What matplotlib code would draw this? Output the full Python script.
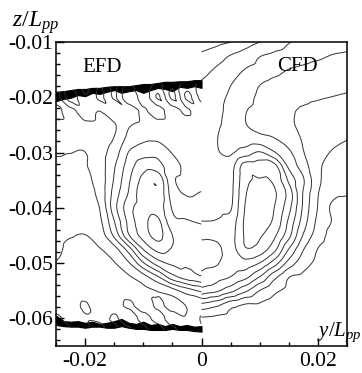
import numpy as np
import matplotlib
matplotlib.use("Agg")
import matplotlib.pyplot as plt
import matplotlib.tri as mtri
from matplotlib.patches import Polygon
from matplotlib.ticker import MultipleLocator

plt.rcParams['font.family'] = ['Liberation Serif', 'DejaVu Serif']
plt.rcParams['mathtext.fontset'] = 'custom'
plt.rcParams['mathtext.it'] = 'Liberation Serif:italic'
plt.rcParams['mathtext.rm'] = 'Liberation Serif'
plt.rcParams['axes.unicode_minus'] = False

# --- measurement / computation grid (y/Lpp across, z/Lpp down) ---
z_nodes = [-0.0100, -0.0125, -0.0150, -0.0175, -0.0200, -0.0225, -0.0250, -0.0275,
           -0.0300, -0.0325, -0.0350, -0.0375, -0.0400, -0.0425, -0.0450, -0.0475,
           -0.0500, -0.0525, -0.0550, -0.0575, -0.0600, -0.0625, -0.0650]
y_cfd = [0.0, 0.0025, 0.005, 0.0075, 0.01, 0.0125, 0.015, 0.0175, 0.02, 0.0225, 0.025]
y_efd = [-0.025, -0.0225, -0.02, -0.0175, -0.015, -0.0125, -0.01, -0.0075, -0.005, -0.0025, 0.0]

# wake level (one row per z node)
cfd_level = [
    [8.6, 8.3, 8.0, 7.5, 7.0, 6.55, 6.05, 5.85, 5.65, 5.45, 5.3],
    [7.8, 7.45, 6.95, 6.55, 6.05, 5.8, 5.6, 5.4, 5.2, 4.95, 4.85],
    [7.35, 6.9, 6.45, 5.97, 5.7, 5.35, 4.98, 4.8, 4.6, 4.4, 4.3],
    [6.9, 6.5, 6.05, 5.55, 5.05, 4.75, 4.5, 4.35, 4.3, 4.2, 4.1],
    [6.6, 6.25, 5.85, 5.3, 4.85, 4.6, 4.4, 4.25, 4.1, 3.98, 3.9],
    [6.5, 6.2, 5.75, 5.05, 4.8, 4.5, 4.15, 3.85, 3.6, 3.4, 3.3],
    [6.5, 6.15, 5.7, 5.05, 4.7, 4.45, 4.15, 3.8, 3.5, 3.3, 3.2],
    [6.5, 6.05, 5.6, 5.45, 5.35, 5.05, 4.5, 3.9, 3.4, 3.15, 3.02],
    [6.5, 6.1, 5.85, 6.5, 7.1, 6.1, 5.2, 4.05, 3.3, 2.95, 2.8],
    [6.5, 6.4, 6.6, 8.5, 8.6, 8.4, 5.8, 4.5, 3.2, 2.7, 2.55],
    [6.55, 6.6, 6.7, 8.7, 9.05, 8.8, 6.8, 5.1, 3.25, 2.45, 2.3],
    [6.6, 6.7, 6.75, 8.9, 9.4, 9.15, 7.6, 4.9, 3.05, 2.2, 2.05],
    [6.7, 6.85, 6.9, 9.05, 9.5, 9.0, 7.3, 4.8, 2.95, 1.85, 1.6],
    [7.02, 7.05, 7.4, 9.15, 9.4, 8.8, 6.8, 4.5, 2.75, 1.95, 1.6],
    [7.8, 7.7, 7.6, 9.1, 9.1, 8.2, 6.3, 3.9, 2.5, 1.7, 1.5],
    [8.3, 8.3, 7.6, 8.9, 8.6, 7.3, 4.95, 3.05, 1.97, 1.6, 1.45],
    [8.2, 8.1, 7.4, 7.6, 6.97, 5.5, 3.6, 2.4, 1.8, 1.55, 1.45],
    [7.75, 7.4, 6.98, 6.3, 4.97, 3.3, 2.05, 1.8, 1.6, 1.5, 1.4],
    [6.6, 6.2, 5.3, 4.2, 2.97, 2.2, 1.8, 1.6, 1.5, 1.45, 1.4],
    [3.8, 3.3, 2.4, 1.95, 1.9, 1.7, 1.6, 1.5, 1.45, 1.4, 1.4],
    [1.9, 1.8, 1.7, 1.6, 1.55, 1.5, 1.5, 1.45, 1.4, 1.4, 1.4],
    [1.7, 1.65, 1.6, 1.55, 1.5, 1.5, 1.45, 1.45, 1.4, 1.4, 1.4],
    [1.6, 1.6, 1.55, 1.5, 1.5, 1.45, 1.45, 1.4, 1.4, 1.4, 1.4],
]

# EFD only covers z_nodes[3:22]; the first and last rows are noisy near the window edges
efd_z_nodes = z_nodes[3:22]
efd_level = [
    [3.6, 4.8, 3.5, 5.05, 3.7, 5.2, 4.0, 5.3, 4.2, 5.5, 4.5],
    [3.5, 5.5, 4.1, 5.2, 3.9, 5.9, 4.4, 6.1, 3.8, 6.2, 4.6],
    [4.4, 3.6, 4.6, 4.0, 4.7, 4.1, 5.2, 4.4, 5.6, 4.8, 5.7],
    [3.6, 3.7, 3.75, 3.8, 3.9, 4.9, 5.3, 5.5, 5.6, 5.7, 5.75],
    [3.3, 3.35, 3.4, 3.6, 4.05, 5.3, 5.8, 5.85, 5.6, 5.6, 5.6],
    [3.05, 3.01, 2.99, 3.6, 4.5, 6.05, 6.6, 6.7, 5.95, 5.7, 5.7],
    [2.9, 2.92, 2.95, 3.5, 4.9, 6.5, 7.6, 7.4, 6.4, 5.8, 5.75],
    [2.75, 2.8, 2.85, 3.4, 5.1, 6.85, 8.3, 8.8, 6.2, 5.8, 5.8],
    [2.6, 2.65, 2.75, 3.3, 5.4, 7.1, 8.6, 8.85, 6.5, 5.95, 6.05],
    [2.5, 2.55, 2.7, 3.02, 5.6, 7.6, 8.5, 8.6, 6.9, 6.4, 6.4],
    [2.4, 2.45, 2.6, 2.8, 4.95, 7.3, 8.7, 9.2, 7.3, 7.1, 6.9],
    [2.2, 2.05, 1.97, 2.5, 4.2, 6.9, 8.4, 9.3, 8.0, 7.6, 7.4],
    [2.15, 1.85, 1.8, 1.95, 2.6, 4.5, 7.03, 8.3, 7.9, 7.6, 7.5],
    [1.97, 1.75, 1.7, 1.75, 1.95, 2.9, 4.9, 6.5, 7.2, 7.1, 7.1],
    [1.7, 1.6, 1.6, 1.6, 1.65, 1.9, 2.6, 3.9, 5.6, 6.5, 6.9],
    [1.6, 1.5, 1.5, 1.55, 1.55, 1.6, 1.75, 2.05, 2.6, 3.5, 4.2],
    [1.5, 1.6, 2.1, 1.4, 1.7, 2.15, 1.5, 2.2, 1.6, 2.1, 2.4],
    [2.2, 1.6, 1.9, 1.8, 2.1, 1.5, 2.3, 1.7, 2.4, 2.1, 3.1],
    [1.4, 2.3, 1.5, 2.6, 1.6, 2.4, 1.4, 2.7, 1.6, 2.5, 2.8],
]

# edges of the PIV window: ragged black bands where the EFD data stop
edge_y = [-0.025, -0.02375, -0.0225, -0.02125, -0.02, -0.01875, -0.0175, -0.01625,
          -0.015, -0.01375, -0.0125, -0.01125, -0.01, -0.00875, -0.0075, -0.00625,
          -0.005, -0.00375, -0.0025, -0.00125, 0.0]
top_band_upper = [-0.0190, -0.0189, -0.0187, -0.0185, -0.0185, -0.0183, -0.0183, -0.0181,
                  -0.0180, -0.0180, -0.0180, -0.0178, -0.0176, -0.0176, -0.0174, -0.0172,
                  -0.0172, -0.0171, -0.0171, -0.0169, -0.0169]
top_band_lower = [-0.0207, -0.0203, -0.0201, -0.0196, -0.0198, -0.0192, -0.0194, -0.0190,
                  -0.0187, -0.0192, -0.0189, -0.0187, -0.0192, -0.0187, -0.0183, -0.0185,
                  -0.0189, -0.0181, -0.0183, -0.0180, -0.0183]
bottom_band_upper = [-0.0595, -0.0605, -0.0606, -0.0605, -0.0608, -0.0606, -0.0610, -0.0608,
                     -0.0605, -0.0601, -0.0608, -0.0610, -0.0606, -0.0612, -0.0610, -0.0614,
                     -0.0610, -0.0614, -0.0612, -0.0615, -0.0614]
bottom_band_lower = [-0.0612, -0.0614, -0.0615, -0.0615, -0.0617, -0.0615, -0.0615, -0.0617,
                     -0.0617, -0.0614, -0.0617, -0.0619, -0.0619, -0.0621, -0.0621, -0.0621,
                     -0.0619, -0.0621, -0.0621, -0.0623, -0.0624]

levels = [2, 3, 4, 5, 6, 7, 8, 9]
x_ticks = [-0.02, 0.0, 0.02]
x_tick_labels = ['-0.02', '0', '0.02']
y_ticks = [-0.06, -0.05, -0.04, -0.03, -0.02, -0.01]
y_tick_labels = ['-0.06', '-0.05', '-0.04', '-0.03', '-0.02', '-0.01']

LINE_COLOR = '#333333'


def smooth_contour(ax, y, z, level):
    """Contour a small grid after a cubic refinement of the triangulated field."""
    ny, nz = len(y), len(z)
    yy, zz = np.meshgrid(y, z)
    triangles = []
    for i in range(nz - 1):
        for j in range(ny - 1):
            a = i * ny + j
            triangles.append([a, a + 1, a + ny + 1])
            triangles.append([a, a + ny + 1, a + ny])
    tri = mtri.Triangulation(yy.ravel(), zz.ravel(), np.array(triangles))
    vals = np.asarray(level, dtype=float).ravel()
    interp = mtri.CubicTriInterpolator(tri, vals, kind='geom')
    tri_f, vals_f = mtri.UniformTriRefiner(tri).refine_field(vals, triinterpolator=interp, subdiv=3)
    return ax.tricontour(tri_f, vals_f, levels=levels, colors=LINE_COLOR, linewidths=0.7)


fig = plt.figure(figsize=(3.62, 3.73), dpi=100)
ax = fig.add_axes([0.1547, 0.0724, 0.8039, 0.8150])

# CFD half
smooth_contour(ax, y_cfd, z_nodes, cfd_level)

# EFD half, clipped to the measurement window
cs = smooth_contour(ax, y_efd, efd_z_nodes, efd_level)
window = list(zip(edge_y, top_band_upper)) + list(zip(edge_y[::-1], bottom_band_lower[::-1]))
clip = Polygon(window, closed=True, transform=ax.transData, facecolor='none', edgecolor='none')
cs.set_clip_path(clip)
ax.fill_between(edge_y, top_band_lower, top_band_upper, color='k', lw=0.8)
ax.fill_between(edge_y, bottom_band_lower, bottom_band_upper, color='k', lw=0.8)

ax.text(-0.0205, -0.0154, 'EFD', fontsize=15)
ax.text(0.0130, -0.0153, 'CFD', fontsize=15)

ax.set_xlim(-0.025, 0.025)
ax.set_ylim(-0.065, -0.01)
ax.set_xticks(x_ticks)
ax.set_xticklabels(x_tick_labels)
ax.set_yticks(y_ticks)
ax.set_yticklabels(y_tick_labels)
ax.xaxis.set_minor_locator(MultipleLocator(0.005))
ax.yaxis.set_minor_locator(MultipleLocator(0.002))
ax.tick_params(which='both', direction='in', top=False, right=False, width=1.0, labelsize=15.5)
ax.tick_params(which='major', length=5.5)
ax.tick_params(which='minor', length=2.8)
ax.tick_params(axis='x', pad=4)
ax.tick_params(axis='y', pad=2)
for sp in ax.spines.values():
    sp.set_linewidth(1.1)

fig.text(12 / 362, 1 - 27 / 373, r'$z/L_{pp}$', fontsize=17, va='baseline')
fig.text(317 / 362, 1 - 336 / 373, r'$y/L_{pp}$', fontsize=15, va='baseline')

fig.savefig('out.png', dpi=100)
